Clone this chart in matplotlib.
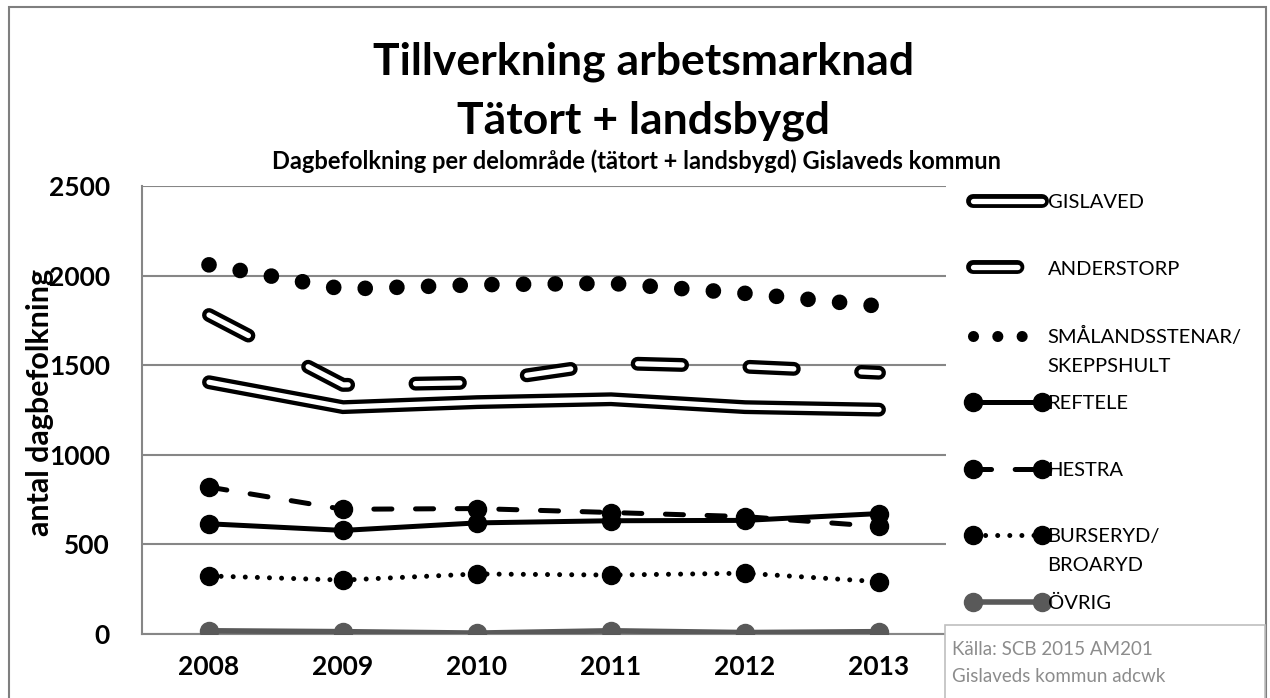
import matplotlib
matplotlib.use("Agg")
import matplotlib.pyplot as plt
from matplotlib.lines import Line2D
from matplotlib.patches import Rectangle
from matplotlib.legend_handler import HandlerTuple

plt.rcParams['font.family'] = ['Lato', 'DejaVu Sans']
plt.rcParams['lines.scale_dashes'] = False

# ---------------- data ----------------
years = ['2008', '2009', '2010', '2011', '2012', '2013']
gislaved = [1405, 1266, 1294, 1310, 1266, 1252]
anderstorp = [1780, 1390, 1403, 1512, 1492, 1458]
smalandsstenar = [2060, 1925, 1949, 1957, 1901, 1830]
reftele = [615, 578, 620, 632, 634, 672]
hestra = [820, 696, 700, 678, 655, 600]
burseryd = [324, 301, 335, 329, 339, 292]
ovrig = [18, 13, 5, 18, 8, 13]
series_names = ['GISLAVED', 'ANDERSTORP', 'SMÅLANDSSTENAR/', 'REFTELE',
                'HESTRA', 'BURSERYD/', 'ÖVRIG']
second_lines = {2: 'SKEPPSHULT', 5: 'BROARYD'}
yticks = [0, 500, 1000, 1500, 2000, 2500]

title = 'Tillverkning arbetsmarknad\nTätort + landsbygd'
subtitle = 'Dagbefolkning per delområde (tätort + landsbygd) Gislaveds kommun'
ylabel = 'antal dagbefolkning'
source = 'Källa: SCB 2015 AM201\nGislaveds kommun adcwk'

# ---------------- figure ----------------
W, H = 1270, 698
fig = plt.figure(figsize=(W / 100, H / 100), dpi=100)
ax = fig.add_axes([142 / W, 1 - 634 / H, 804 / W, 448 / H])

x = list(range(len(years)))
OUT, IN = 10.0, 3.8
BLACK = 'black'
GREY = '#595959'
DASH_A = (0, (32.0, 48.5))
DOT_S = (0, (0.01, 22.8))
DASH_H = (0, (13.0, 17.0))
DOT_B = (0, (0.01, 8.7))
MS = 13

# GISLAVED double line
ax.plot(x, gislaved, color=BLACK, lw=OUT, solid_capstyle='round', solid_joinstyle='miter', zorder=3)
ax.plot(x, gislaved, color='white', lw=IN, solid_capstyle='round', solid_joinstyle='miter', zorder=3.1)
# ANDERSTORP dashed double line
ax.plot(x, anderstorp, color=BLACK, lw=OUT, linestyle=DASH_A, dash_capstyle='round', zorder=3.2)
ax.plot(x, anderstorp, color='white', lw=IN, linestyle=DASH_A, dash_capstyle='round', zorder=3.3)
# SMÅLANDSSTENAR big round dots
ax.plot(x, smalandsstenar, color=BLACK, lw=11.3, linestyle=DOT_S, dash_capstyle='round', zorder=3.4)
# REFTELE
ax.plot(x, reftele, color=BLACK, lw=3.6, marker='o', ms=MS, zorder=3.5)
# HESTRA
ax.plot(x, hestra, color=BLACK, lw=3.6, linestyle=DASH_H, dash_capstyle='round',
        marker='o', ms=MS, zorder=3.6)
# BURSERYD
ax.plot(x, burseryd, color=BLACK, lw=3.6, linestyle=DOT_B, dash_capstyle='round',
        marker='o', ms=MS, zorder=3.7)
# ÖVRIG
ax.plot(x, ovrig, color=GREY, lw=4.0, marker='o', ms=MS, zorder=3.8)

ax.set_xlim(-0.5, len(years) - 0.5)
ax.set_ylim(0, 2500)
ax.set_xticks(x)
ax.set_xticklabels(years)
ax.set_yticks(yticks)
ax.set_yticklabels([str(v) for v in yticks])
ax.tick_params(axis='both', length=0, labelsize=19)
ax.tick_params(axis='y', pad=23)
ax.tick_params(axis='x', pad=15)
for lab in ax.get_xticklabels() + ax.get_yticklabels():
    lab.set_fontweight('bold')
ax.grid(axis='y', color='#868686', lw=1.5, zorder=1)
ax.set_axisbelow(True)
for s in ['top', 'right']:
    ax.spines[s].set_visible(False)
for s in ['left', 'bottom']:
    ax.spines[s].set_color('#868686')
    ax.spines[s].set_linewidth(1.5)

ax.set_ylabel(ylabel, fontsize=22, fontweight='bold', va='center')
ax.yaxis.set_label_coords(-0.127, 0.516)

fig.text(0.507, 1 - 91 / H, title, ha='center', va='center', fontsize=32,
         fontweight='bold', linespacing=1.55)
fig.text(0.501, 1 - 161 / H, subtitle, ha='center', va='center', fontsize=17,
         fontweight='bold')

# outer border
fig.add_artist(Rectangle((9 / W, -0.05), 1257 / W, 1 - 7 / H + 0.05, transform=fig.transFigure,
                         fill=False, ec='#7f7f7f', lw=1.5, zorder=0))

# ---------------- legend ----------------
def dbl(ls=None):
    kw = dict(solid_capstyle='round')
    if ls is not None:
        kw = dict(linestyle=ls, dash_capstyle='round')
    return (Line2D([], [], color=BLACK, lw=OUT, **kw),
            Line2D([], [], color='white', lw=IN, **kw))

handles = [
    dbl(),
    dbl(DASH_A),
    Line2D([], [], color=BLACK, lw=8, linestyle=(0, (0.01, 17.5)), dash_capstyle='round'),
    Line2D([], [], color=BLACK, lw=3.6, marker='o', ms=MS),
    Line2D([], [], color=BLACK, lw=3.6, linestyle=DASH_H, dash_capstyle='round', marker='o', ms=MS),
    Line2D([], [], color=BLACK, lw=3.6, linestyle=DOT_B, dash_capstyle='round', marker='o', ms=MS),
    Line2D([], [], color=GREY, lw=4.0, marker='o', ms=MS),
]
leg = ax.legend(handles, series_names, handler_map={tuple: HandlerTuple(ndivide=1, pad=0)},
                loc='upper left', bbox_to_anchor=(967 / W, 1 - 194 / H),
                bbox_transform=fig.transFigure, frameon=False, fontsize=14.5,
                numpoints=2, handlelength=4.0, handletextpad=0.0, labelspacing=2.45,
                borderpad=0, borderaxespad=0)
texts = leg.get_texts()
for i, extra in second_lines.items():
    ax.annotate(extra, xy=(0, 0), xycoords=texts[i], xytext=(0, -18.4), textcoords='offset points',
                ha='left', va='baseline', fontsize=14.5, zorder=10, annotation_clip=False)

# ---------------- source box ----------------
fig.add_artist(Rectangle((945 / W, -0.05), 320 / W, (698 - 625) / H + 0.05,
                         transform=fig.transFigure, fc='white', ec='#bfbfbf', lw=1.2, zorder=5))
fig.text(952 / W, 1 - 663 / H, source, color='#8c8c8c', fontsize=13.5, ha='left',
         va='center', linespacing=1.7, zorder=6)

fig.savefig('out.png', dpi=100)
